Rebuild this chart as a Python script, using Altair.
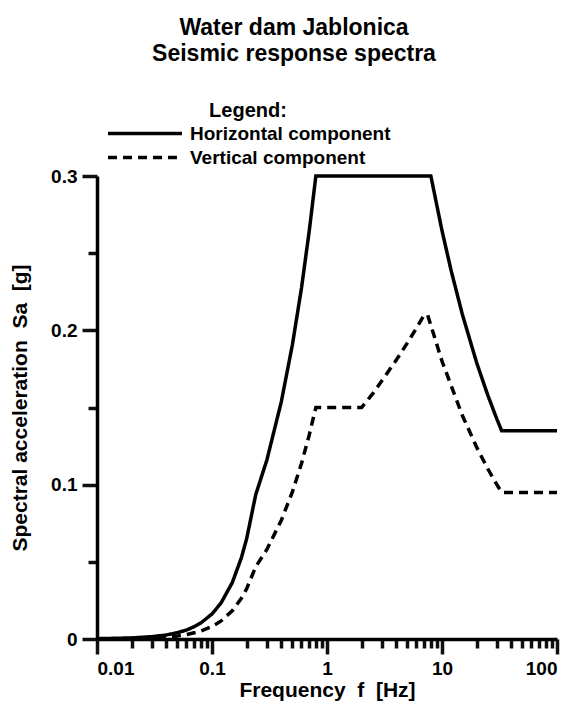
import altair as alt
import pandas as pd

# ---- data ----
freq_h = [0.01, 0.02, 0.03, 0.04, 0.05, 0.06, 0.07, 0.08, 0.1, 0.12, 0.15, 0.18, 0.2, 0.24,
          0.3, 0.4, 0.5, 0.6, 0.7, 0.8, 2, 8, 10, 12, 15, 20, 25, 30, 33, 100]
sa_h = [0.0002, 0.0007, 0.0015, 0.0026, 0.0041, 0.0058, 0.008, 0.0104, 0.0162, 0.0234, 0.0365,
        0.0526, 0.0649, 0.0935, 0.116, 0.1535, 0.1906, 0.2274, 0.2641, 0.3, 0.3, 0.3, 0.2646,
        0.2388, 0.2106, 0.1791, 0.158, 0.1425, 0.135, 0.135]

freq_v = [0.01, 0.02, 0.03, 0.04, 0.05, 0.06, 0.07, 0.08, 0.1, 0.12, 0.15, 0.18, 0.2, 0.24,
          0.3, 0.4, 0.5, 0.6, 0.7, 0.8, 2, 2.5, 3, 4, 5, 6, 7, 7.5, 10, 15, 20, 25, 30, 33, 100]
sa_v = [0.0001, 0.0003, 0.0007, 0.0013, 0.002, 0.0029, 0.004, 0.0052, 0.0081, 0.0117, 0.0183,
        0.0263, 0.0325, 0.0468, 0.058, 0.0768, 0.0953, 0.1137, 0.1321, 0.15, 0.15, 0.159,
        0.1673, 0.1807, 0.1919, 0.2015, 0.21, 0.21, 0.18, 0.145, 0.1243, 0.1103, 0.1, 0.095, 0.095]

series_names = ["Horizontal component", "Vertical component"]

x_minor = [0.02, 0.03, 0.04, 0.05, 0.06, 0.07, 0.08, 0.09,
           0.2, 0.3, 0.4, 0.5, 0.6, 0.7, 0.8, 0.9,
           2, 3, 4, 5, 6, 7, 8, 9,
           20, 30, 40, 50, 60, 70, 80, 90]
x_major = [0.01, 0.1, 1, 10, 100]
y_minor = [0.05, 0.15, 0.25]
y_major = [0, 0.1, 0.2, 0.3]

df = pd.concat([
    pd.DataFrame({"f": freq_h, "sa": sa_h, "series": series_names[0]}),
    pd.DataFrame({"f": freq_v, "sa": sa_v, "series": series_names[1]}),
])

FONT = "Liberation Sans"
NB = "\u00a0"

x_scale = alt.Scale(type="log", domain=[0.01, 100], nice=False)
y_scale = alt.Scale(domain=[0, 0.3], nice=False, zero=True)

tick_style = dict(ticks=True, tickColor="#101010", tickWidth=3.5, tickOpacity=1, grid=False)

x_axis_major = alt.Axis(
    values=x_major, format="~g", tickSize=15, orient="bottom",
    title=f"Frequency{NB}{NB}f{NB}{NB}[Hz]",
    labelPadding=5, titlePadding=1, **tick_style,
)
y_axis_major = alt.Axis(
    values=y_major, format="~g", tickSize=15, orient="left",
    title=f"Spectral acceleration{NB}{NB}Sa{NB}{NB}[g]",
    labelPadding=5, titlePadding=20, **tick_style,
)
x_axis_minor = alt.Axis(values=x_minor, tickSize=9, orient="bottom", labels=False,
                        domain=False, title=None, **tick_style)
y_axis_minor = alt.Axis(values=y_minor, tickSize=9, orient="left", labels=False,
                        domain=False, title=None, **tick_style)

lines = alt.Chart(df).mark_line(strokeWidth=3.5, color="black", clip=False).encode(
    x=alt.X("f:Q", scale=x_scale, axis=x_axis_major),
    y=alt.Y("sa:Q", scale=y_scale, axis=y_axis_major),
    strokeDash=alt.StrokeDash(
        "series:N",
        scale=alt.Scale(domain=series_names, range=[[1, 0], [9, 6]]),
        legend=alt.Legend(
            title="Legend:",
            orient="none",
            legendX=9,
            legendY=-75,
            padding=0,
            titleAnchor="middle",
            titleFontSize=20,
            titleFont=FONT,
            titleFontWeight="bold",
            titleColor="black",
            titlePadding=2,
            labelFontSize=19,
            labelFont=FONT,
            labelFontWeight="bold",
            labelColor="black",
            labelOffset=6,
            labelLimit=400,
            symbolSize=5476,
            symbolStrokeWidth=3.5,
            symbolStrokeColor="black",
            symbolType="stroke",
            clipHeight=21,
            rowPadding=3,
        ),
    ),
)

minor_ticks = alt.Chart(df).mark_point(opacity=0).encode(
    x=alt.X("f:Q", scale=x_scale, axis=x_axis_minor),
    y=alt.Y("sa:Q", scale=y_scale, axis=y_axis_minor),
)

chart = alt.layer(minor_ticks, lines).resolve_axis(
    x="independent", y="independent"
).properties(
    width=460,
    height=463,
    title=alt.TitleParams(
        text=["Water dam Jablonica", "Seismic response spectra"],
        fontSize=23,
        font=FONT,
        fontWeight="bold",
        color="black",
        anchor="middle",
        dx=-33,
        offset=35,
        lineHeight=26,
    ),
    autosize=alt.AutoSizeParams(type="none"),
    padding={"left": 89, "top": 168, "right": 12, "bottom": 62},
).configure_axis(
    domainColor="black",
    domainWidth=3.5,
    labelColor="black",
    labelFont=FONT,
    labelFontSize=19,
    labelFontWeight="bold",
    titleColor="black",
    titleFont=FONT,
    titleFontSize=21,
    titleFontWeight="bold",
).configure_view(stroke=None)

chart.save("out.html", embed_options={"renderer": "svg", "actions": False})
